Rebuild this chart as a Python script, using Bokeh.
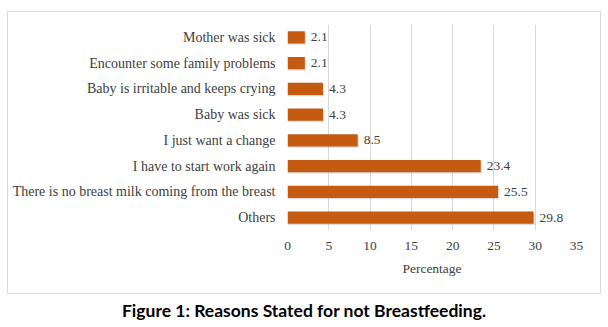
from bokeh.plotting import figure
from bokeh.models import ColumnDataSource, FactorRange, Div, FixedTicker
from bokeh.layouts import column
from bokeh.transform import dodge
from bokeh.core.properties import value
from bokeh.embed import file_html
from bokeh.resources import INLINE

reasons = [
    "Mother was sick",
    "Encounter some family problems",
    "Baby is irritable and keeps crying",
    "Baby was sick",
    "I just want a change",
    "I have to start work again",
    "There is no breast milk coming from the breast",
    "Others",
]
percentages = [2.1, 2.1, 4.3, 4.3, 8.5, 23.4, 25.5, 29.8]
x_ticks = [0, 5, 10, 15, 20, 25, 30, 35]
x_title = "Percentage"
caption = "Figure 1: Reasons Stated for not Breastfeeding."

labels = [f"{v:.1f}" for v in percentages]
src = ColumnDataSource(dict(cat=reasons, val=percentages, lab=labels,
                            shadow=[v + 0.15 for v in percentages]))

SERIF = "Liberation Serif"
TXT = "#404040"

p = figure(width=592, height=281, output_backend="svg", toolbar_location=None,
           y_range=FactorRange(*reversed(reasons)), x_range=(0, 35),
           min_border_left=279, min_border_right=24, min_border_top=12,
           min_border_bottom=63, margin=(12, 0, 0, 8))
p.styles = {"box-shadow": "0 0 0 1px #d9d9d9"}
p.outline_line_color = None
p.background_fill_color = "white"
p.border_fill_color = "white"

# soft shadow
p.hbar(y=dodge("cat", -0.05, range=p.y_range), right="shadow", left=0.1, height=0.47,
       source=src, fill_color="#9a9a9a", fill_alpha=0.35, line_color=None)
p.hbar(y="cat", right="val", left=0, height=0.47, source=src,
       fill_color="#C55A11", line_color=None)
p.text(x="val", y="cat", text="lab", source=src, x_offset=6,
       text_baseline="middle", text_align="left", text_font=value(SERIF),
       text_font_size="13.5px", text_color=TXT)

p.xgrid.grid_line_color = "#d9d9d9"
p.xgrid.ticker = FixedTicker(ticks=x_ticks)
p.ygrid.grid_line_color = None

p.xaxis.ticker = FixedTicker(ticks=x_ticks)
p.xaxis.axis_line_color = None
p.xaxis.major_tick_line_color = None
p.xaxis.minor_tick_line_color = None
p.xaxis.major_label_text_font = SERIF
p.xaxis.major_label_text_font_size = "13.5px"
p.xaxis.major_label_text_color = TXT
p.xaxis.major_label_standoff = 5
p.xaxis.axis_label = x_title
p.xaxis.axis_label_text_font = SERIF
p.xaxis.axis_label_text_font_size = "13.5px"
p.xaxis.axis_label_text_font_style = "normal"
p.xaxis.axis_label_text_color = TXT
p.xaxis.axis_label_standoff = 8

p.yaxis.axis_line_color = None
p.yaxis.major_tick_line_color = None
p.yaxis.minor_tick_line_color = None
p.yaxis.major_label_text_font = SERIF
p.yaxis.major_label_text_font_size = "14px"
p.yaxis.major_label_text_color = TXT
p.yaxis.major_label_standoff = 6

cap = Div(text=caption, width=608, height=34,
          styles={"font-family": "Lato", "font-weight": "bold", "font-size": "17.5px",
                  "color": "#000000", "text-align": "center", "width": "608px",
                  "line-height": "36px"},
          margin=(0, 0, 0, 0))

layout = column(p, cap, spacing=0)
open("out.html", "w").write(file_html(layout, INLINE))
